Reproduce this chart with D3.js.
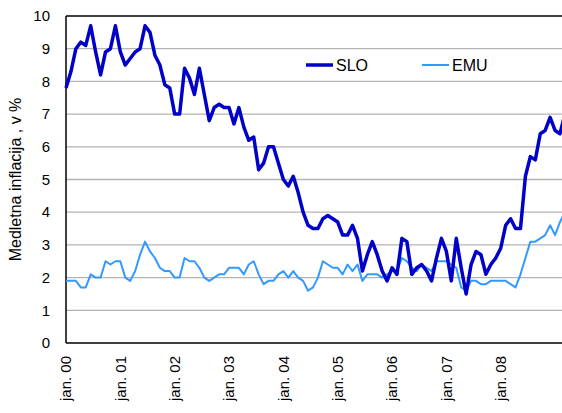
<!doctype html>
<html>
  <head>
    <script src="https://cdnjs.cloudflare.com/ajax/libs/d3/7.8.5/d3.min.js"></script>
    <style>
      body { margin: 0; background: #fff; }
      svg { font-family: Arial, "Liberation Sans", sans-serif; }
      .grid line { stroke: #b4b4b4; stroke-width: 1.3px; }
      .lbl { font-size: 15px; fill: #000; }
    </style>
  </head>
  <body>
    <svg width="562" height="413"></svg>
    <script>
      // monthly y/y inflation, jan 2000 .. jun 2008
      var slo = [7.8, 8.3, 9.0, 9.2, 9.1, 9.7, 8.9, 8.2, 8.9, 9.0, 9.7, 8.9,
                 8.5, 8.7, 8.9, 9.0, 9.7, 9.5, 8.8, 8.5, 7.9, 7.8, 7.0, 7.0,
                 8.4, 8.1, 7.6, 8.4, 7.6, 6.8, 7.2, 7.3, 7.2, 7.2, 6.7, 7.2,
                 6.6, 6.2, 6.3, 5.3, 5.5, 6.0, 6.0, 5.5, 5.0, 4.8, 5.1, 4.6,
                 4.0, 3.6, 3.5, 3.5, 3.8, 3.9, 3.8, 3.7, 3.3, 3.3, 3.6, 3.2,
                 2.2, 2.7, 3.1, 2.7, 2.2, 1.9, 2.3, 2.1, 3.2, 3.1, 2.1, 2.3,
                 2.4, 2.2, 1.9, 2.6, 3.2, 2.8, 1.9, 3.2, 2.3, 1.5, 2.4, 2.8,
                 2.7, 2.1, 2.4, 2.6, 2.9, 3.6, 3.8, 3.5, 3.5, 5.1, 5.7, 5.6,
                 6.4, 6.5, 6.9, 6.5, 6.4, 7.0];
      var emu = [1.9, 1.9, 1.9, 1.7, 1.7, 2.1, 2.0, 2.0, 2.5, 2.4, 2.5, 2.5,
                 2.0, 1.9, 2.2, 2.7, 3.1, 2.8, 2.6, 2.3, 2.2, 2.2, 2.0, 2.0,
                 2.6, 2.5, 2.5, 2.3, 2.0, 1.9, 2.0, 2.1, 2.1, 2.3, 2.3, 2.3,
                 2.1, 2.4, 2.5, 2.1, 1.8, 1.9, 1.9, 2.1, 2.2, 2.0, 2.2, 2.0,
                 1.9, 1.6, 1.7, 2.0, 2.5, 2.4, 2.3, 2.3, 2.1, 2.4, 2.2, 2.4,
                 1.9, 2.1, 2.1, 2.1, 2.0, 2.1, 2.2, 2.2, 2.6, 2.5, 2.3, 2.2,
                 2.4, 2.3, 2.2, 2.5, 2.5, 2.5, 2.4, 2.3, 1.7, 1.6, 1.9, 1.9,
                 1.8, 1.8, 1.9, 1.9, 1.9, 1.9, 1.8, 1.7, 2.1, 2.6, 3.1, 3.1,
                 3.2, 3.3, 3.6, 3.3, 3.7, 4.0];
      var seriesNames = ["SLO", "EMU"];
      var seriesColors = ["#0000c8", "#3399ff"];
      var yTicks = [0, 1, 2, 3, 4, 5, 6, 7, 8, 9, 10];
      var xLabels = ["jan. 00", "jan. 01", "jan. 02", "jan. 03", "jan. 04",
                     "jan. 05", "jan. 06", "jan. 07", "jan. 08"];
      var labelStep = 11; // excel showed every 11th category

      var svg = d3.select("svg");
      var plotLeft = 66, plotTop = 16, plotBottom = 343, step = 4.94;

      var x = d3.scaleLinear().domain([0, slo.length - 1])
          .range([plotLeft, plotLeft + (slo.length - 1) * step]);
      var y = d3.scaleLinear().domain([0, 10]).range([plotBottom, plotTop]);

      // gridlines
      svg.append("g").attr("class", "grid")
        .selectAll("line").data(yTicks.slice(1, -1)).enter()
        .append("line")
          .attr("x1", plotLeft).attr("x2", 562)
          .attr("y1", d => y(d)).attr("y2", d => y(d));

      // plot border top + axes
      svg.append("line").attr("x1", plotLeft).attr("x2", 562)
        .attr("y1", y(10)).attr("y2", y(10))
        .attr("stroke", "#000").attr("stroke-width", 1.5);
      svg.append("line").attr("x1", plotLeft).attr("x2", plotLeft)
        .attr("y1", y(10)).attr("y2", y(0))
        .attr("stroke", "#000").attr("stroke-width", 1.5);
      svg.append("line").attr("x1", plotLeft).attr("x2", 562)
        .attr("y1", y(0)).attr("y2", y(0))
        .attr("stroke", "#000").attr("stroke-width", 1.5);

      svg.append("g").selectAll("text").data(yTicks).enter()
        .append("text").attr("class", "lbl")
          .attr("x", 50).attr("y", d => y(d)).attr("dy", "0.35em")
          .attr("text-anchor", "end")
          .text(d => d);

      svg.append("g").selectAll("text").data(xLabels).enter()
        .append("text").attr("class", "lbl")
          .attr("text-anchor", "end")
          .attr("dy", "0.35em")
          .attr("transform", (d, i) => "translate(" + x(i * labelStep) + ",356) rotate(-90)")
          .text(d => d);

      svg.append("text").attr("class", "lbl")
        .style("font-size", "16px")
        .attr("text-anchor", "middle")
        .attr("transform", "translate(21," + ((plotTop + plotBottom) / 2) + ") rotate(-90)")
        .text("Medletna inflacija , v %");

      var line = d3.line().x((d, i) => x(i)).y(d => y(d));

      svg.append("path").datum(emu)
        .attr("fill", "none").attr("stroke", seriesColors[1])
        .attr("stroke-width", 2).attr("stroke-linejoin", "round")
        .attr("d", line);
      svg.append("path").datum(slo)
        .attr("fill", "none").attr("stroke", seriesColors[0])
        .attr("stroke-width", 3.5).attr("stroke-linejoin", "round")
        .attr("d", line);

      // legend
      var legendX = [306, 422];
      var leg = svg.append("g").selectAll("g").data(seriesNames).enter()
        .append("g").attr("transform", (d, i) => "translate(" + legendX[i] + ",65)");
      leg.append("line").attr("x1", 0).attr("x2", 27)
        .attr("stroke", (d, i) => seriesColors[i])
        .attr("stroke-width", (d, i) => i == 0 ? 3.5 : 2);
      leg.append("text").attr("x", 30).attr("dy", "0.35em")
        .style("font-size", "16px")
        .text(d => d);
    </script>
  </body>
</html>
